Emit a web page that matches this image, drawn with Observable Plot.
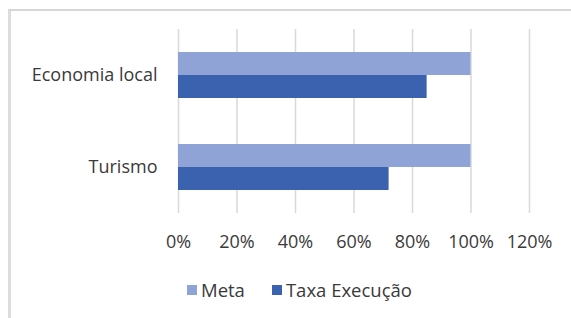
<!DOCTYPE html>
<html>
<head>
<meta charset="utf-8">
<script src="https://cdn.jsdelivr.net/npm/d3@7"></script>
<script src="https://cdn.jsdelivr.net/npm/@observablehq/plot@0.6"></script>
<style>
  html, body { margin: 0; padding: 0; background: #fff; }
  #wrap { position: relative; width: 571px; height: 318px; overflow: hidden; font-family: "Open Sans", sans-serif; }
  #frame { position: absolute; left: 8px; top: 9px; width: 600px; height: 400px; border-top: 2px solid #d6d6d6; border-left: 3px solid #dcdcdc; box-sizing: border-box; }
  #chart { position: absolute; left: 0; top: 0; }
  #legend { position: absolute; top: 277px; left: 187px; display: flex; align-items: center; font-size: 18.5px; color: #3a3a3a; white-space: nowrap; }
  #legend .sw { display: inline-block; width: 10px; height: 10px; margin-right: 4px; }
  #legend .item { display: flex; align-items: center; margin-right: 27px; }
</style>
</head>
<body>
<div id="wrap">
  <div id="frame"></div>
  <div id="chart"></div>
  <div id="legend"></div>
</div>
<script>
const categories = ["Economia local", "Turismo"];
const series = ["Meta", "Taxa Execução"];
const metaValues = [1.00, 1.00];
const taxaValues = [0.85, 0.72];
const xTicks = [0, 0.2, 0.4, 0.6, 0.8, 1.0, 1.2];
const colors = ["#8fa3d6", "#3a62ae"];

const data = [];
categories.forEach((c, i) => {
  data.push({category: c, series: series[0], value: metaValues[i]});
  data.push({category: c, series: series[1], value: taxaValues[i]});
});

const chart = Plot.plot({
  width: 571,
  height: 265,
  marginLeft: 178,
  marginRight: 42,
  marginTop: 29,
  marginBottom: 52,
  style: {fontFamily: "Open Sans, sans-serif", fontSize: "18px", color: "#3a3a3a", background: "transparent"},
  x: {domain: [0, 1.2], ticks: xTicks, tickFormat: d3.format(".0%"), tickSize: 0, tickPadding: 22, label: null},
  fy: {domain: categories, padding: 0, label: null, axis: "left", tickSize: 0, tickPadding: 21},
  y: {domain: series, axis: null, paddingInner: 0, paddingOuter: 0.9167},
  color: {domain: series, range: colors},
  marks: [
    Plot.gridX(xTicks, {stroke: "#d9d9d9", strokeOpacity: 1, strokeWidth: 1.5}),
    Plot.barX(data, {fy: "category", y: "series", x: "value", fill: "series"})
  ]
});
document.getElementById("chart").appendChild(chart);

const legend = document.getElementById("legend");
series.forEach((s, i) => {
  const item = document.createElement("span");
  item.className = "item";
  const sw = document.createElement("span");
  sw.className = "sw";
  sw.style.background = colors[i];
  item.appendChild(sw);
  item.appendChild(document.createTextNode(s));
  legend.appendChild(item);
});
</script>
</body>
</html>
